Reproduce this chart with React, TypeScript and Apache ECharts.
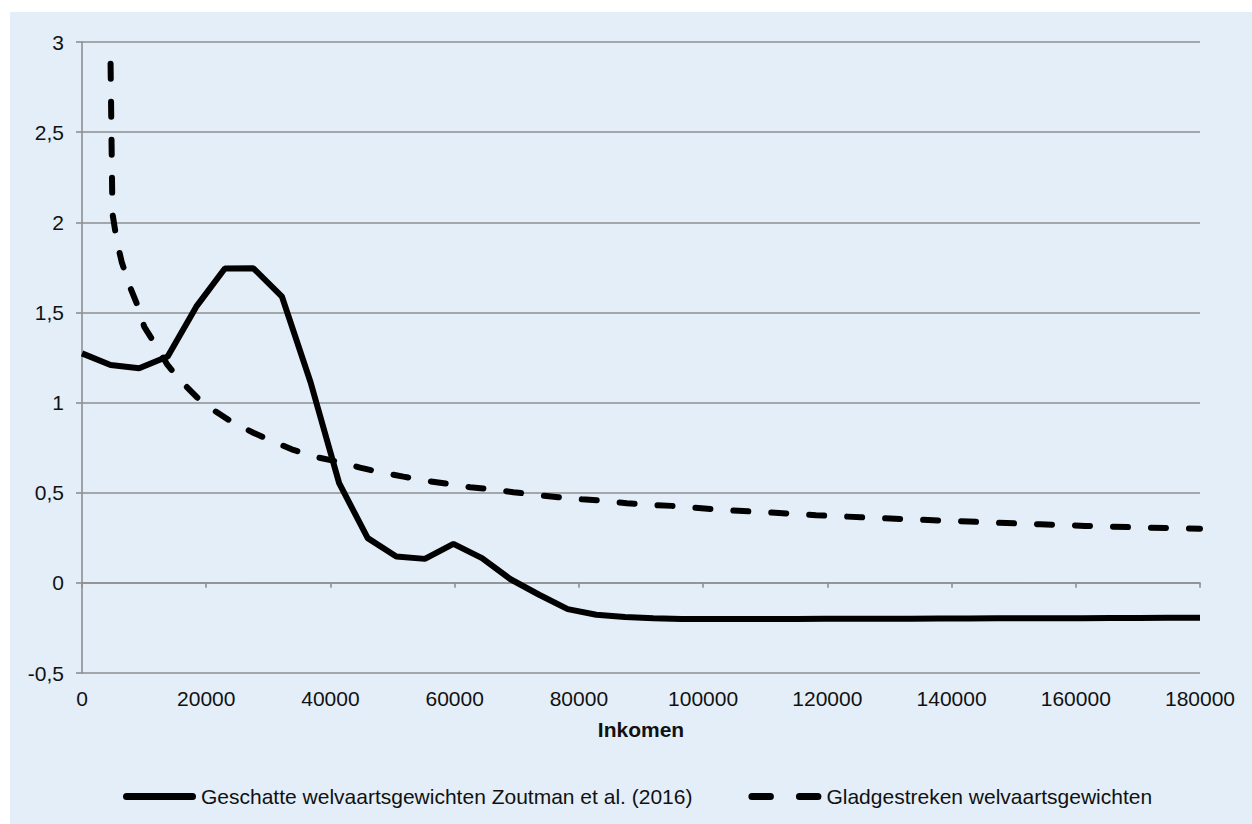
import React, { useEffect, useRef } from "react";
import * as echarts from "echarts";

const incomeSolid = [
  0, 4600, 9200, 13800, 18400, 23000, 27600, 32200, 36800, 41400, 46000, 50600,
  55200, 59800, 64400, 69000, 73600, 78200, 82800, 87400, 92000, 96600, 101200,
  105800, 110400, 115000, 119600, 124200, 128800, 133400, 138000, 142600, 147200,
  151800, 156400, 161000, 165600, 170200, 174800, 179400, 180000,
];
const weightsSolid = [
  1.273, 1.208, 1.19, 1.255, 1.532, 1.744, 1.745, 1.587, 1.113, 0.553, 0.248,
  0.146, 0.133, 0.216, 0.137, 0.02, -0.066, -0.146, -0.177, -0.19, -0.196, -0.2,
  -0.2, -0.2, -0.2, -0.2, -0.199, -0.199, -0.199, -0.199, -0.198, -0.198, -0.197,
  -0.197, -0.196, -0.196, -0.195, -0.195, -0.194, -0.193, -0.193,
];

const incomeSmooth = [
  4600, 4900, 5590, 6390, 7620, 8810, 10030, 11760, 13740, 15780, 18570, 21140,
  24480, 27580, 30810, 34030, 37790, 41270, 44770, 47990, 51740, 55230, 58990,
  62480, 65970, 69450, 73220, 76700, 80470, 83950, 87710, 91190, 94960, 98440,
  103800, 111000, 118200, 125400, 132600, 139900, 147000, 154300, 161500, 168800,
  176000, 180000,
];
const weightsSmooth = [
  2.88, 2.05, 1.9, 1.78, 1.65, 1.55, 1.42, 1.325, 1.21, 1.125, 1.027, 0.959,
  0.885, 0.833, 0.783, 0.737, 0.697, 0.672, 0.639, 0.614, 0.589, 0.567, 0.549,
  0.53, 0.519, 0.503, 0.488, 0.475, 0.464, 0.455, 0.442, 0.432, 0.427, 0.417,
  0.403, 0.39, 0.375, 0.364, 0.353, 0.344, 0.334, 0.325, 0.316, 0.309, 0.303, 0.3,
];

const seriesNames = [
  "Geschatte welvaartsgewichten Zoutman et al. (2016)",
  "Gladgestreken welvaartsgewichten",
];
const xAxisTitle = "Inkomen";

const FONT = "'Liberation Sans', Arial, sans-serif";
const GRID = "#8F8F8F";
const TEXT = "#111";

const SOLID_ICON = "path://M3.5,0 H69.5 A3.5,3.5 0 0 1 69.5,7 H3.5 A3.5,3.5 0 0 1 3.5,0 Z";
const DASH_ICON =
  "path://M3.5,0 H22 A3.5,3.5 0 0 1 22,7 H3.5 A3.5,3.5 0 0 1 3.5,0 Z M51,0 H69.5 A3.5,3.5 0 0 1 69.5,7 H51 A3.5,3.5 0 0 1 51,0 Z";

export default function App() {
  const ref = useRef<HTMLDivElement>(null);
  useEffect(() => {
    if (!ref.current) return;
    const chart = echarts.init(ref.current, undefined, { renderer: "svg" });
    chart.setOption({
      animation: false,
      backgroundColor: "#E3EEF8",
      textStyle: { fontFamily: FONT },
      grid: { left: 72, right: 52, top: 30, bottom: 151, containLabel: false },
      legend: {
        left: 108,
        top: 769,
        itemWidth: 73,
        itemHeight: 7,
        itemGap: 56,
        textStyle: { fontSize: 21, color: TEXT, fontFamily: FONT },
        data: [
          { name: seriesNames[0], icon: SOLID_ICON },
          { name: seriesNames[1], icon: DASH_ICON },
        ],
      },
      xAxis: {
        type: "value",
        min: 0,
        max: 180000,
        interval: 20000,
        name: xAxisTitle,
        nameLocation: "middle",
        nameGap: 46,
        nameTextStyle: { fontSize: 21, fontWeight: "bold", color: TEXT, fontFamily: FONT },
        axisLine: { show: true, lineStyle: { color: GRID, width: 1.6 } },
        axisTick: { show: true, length: 5, lineStyle: { color: GRID, width: 1.6 } },
        axisLabel: {
          fontSize: 21,
          color: TEXT,
          margin: 15,
          fontFamily: FONT,
          formatter: (v: number) => String(v),
        },
        splitLine: { show: false },
      },
      yAxis: {
        type: "value",
        min: -0.5,
        max: 3,
        interval: 0.5,
        axisLine: { show: true, lineStyle: { color: GRID, width: 1.6 } },
        axisTick: { show: true, length: 6, lineStyle: { color: GRID, width: 1.6 } },
        axisLabel: {
          fontSize: 21,
          color: TEXT,
          margin: 18,
          fontFamily: FONT,
          formatter: (v: number) => String(v).replace(".", ","),
        },
        splitLine: { show: true, lineStyle: { color: GRID, width: 1.6 } },
      },
      series: [
        {
          name: seriesNames[0],
          type: "line",
          data: incomeSolid.map((x, i) => [x, weightsSolid[i]]),
          showSymbol: false,
          symbol: "none",
          lineStyle: { color: "#000", width: 6 },
          itemStyle: { color: "#000" },
        },
        {
          name: seriesNames[1],
          type: "line",
          data: incomeSmooth.map((x, i) => [x, weightsSmooth[i]]),
          showSymbol: false,
          symbol: "none",
          lineStyle: { color: "#000", width: 6, type: [15, 23], cap: "round" },
          itemStyle: { color: "#000" },
        },
      ],
    });
    return () => chart.dispose();
  }, []);
  return (
    <div
      ref={ref}
      style={{ position: "absolute", left: 10, top: 12, width: 1242, height: 812 }}
    />
  );
}
